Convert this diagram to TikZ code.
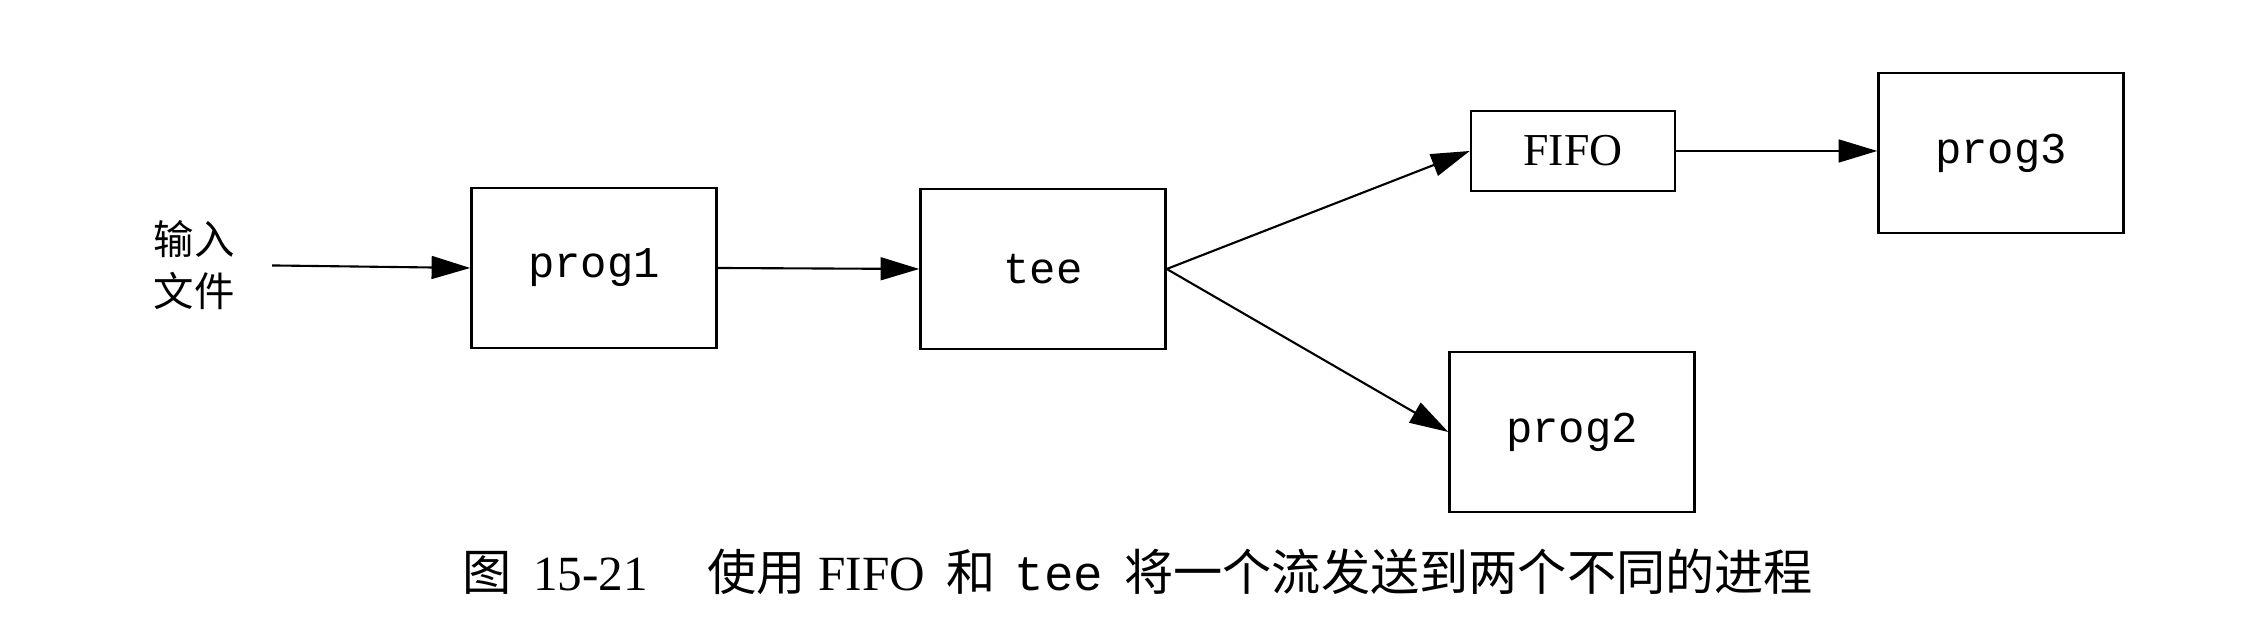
\documentclass[tikz,border=0pt]{standalone}
\usepackage{fontspec}
\setmainfont{Liberation Serif}
\setmonofont{Liberation Mono}
\newfontfamily\cjk{Noto Sans CJK SC}
\usetikzlibrary{arrows.meta}

\begin{document}
\begin{tikzpicture}[
  box/.style={draw, line width=0.7pt, minimum width=2.45cm, minimum height=1.6cm,
    font=\fontsize{12.5}{15}\selectfont\ttfamily},
  flow/.style={-{Triangle[length=11pt,width=6.5pt]}, line width=0.6pt}]
\useasboundingbox (0,0) rectangle (22.68,6.42);
\node[align=center, inner sep=0pt, font=\cjk\fontsize{11.5}{14.8}\selectfont] (infile) at (1.94,3.77) {输入\\文件};
\node[box] (prog1) at (5.94,3.74) {prog1};
\node[box] (tee) at (10.43,3.73) {tee};
\node[box, minimum width=2.04cm, minimum height=0.8cm, font=\fontsize{13}{15}\selectfont\rmfamily] (fifo) at (15.73,4.91) {FIFO};
\node[box] (prog3) at (20.01,4.89) {prog3};
\node[box] (prog2) at (15.72,2.10) {prog2};
\draw[flow, shorten <=0.37cm] (infile.east) -- (prog1.west);
\draw[flow] (prog1.east) -- (tee.west);
\draw[flow] (tee.east) -- (fifo.west);
\draw[flow] (tee.east) -- (prog2.west);
\draw[flow] (fifo.east) -- (prog3.west |- fifo.east);
\node[font=\fontsize{14}{16}\selectfont] (caption) at (11.38,0.70)
  {{\cjk 图}\hspace{6pt}15-21\hspace{17pt}{\cjk 使用}\hspace{3.5pt}FIFO\hspace{6pt}{\cjk 和}\hspace{5.5pt}\texttt{tee}\hspace{6pt}{\cjk 将一个流发送到两个不同的进程}};
\end{tikzpicture}
\end{document}
